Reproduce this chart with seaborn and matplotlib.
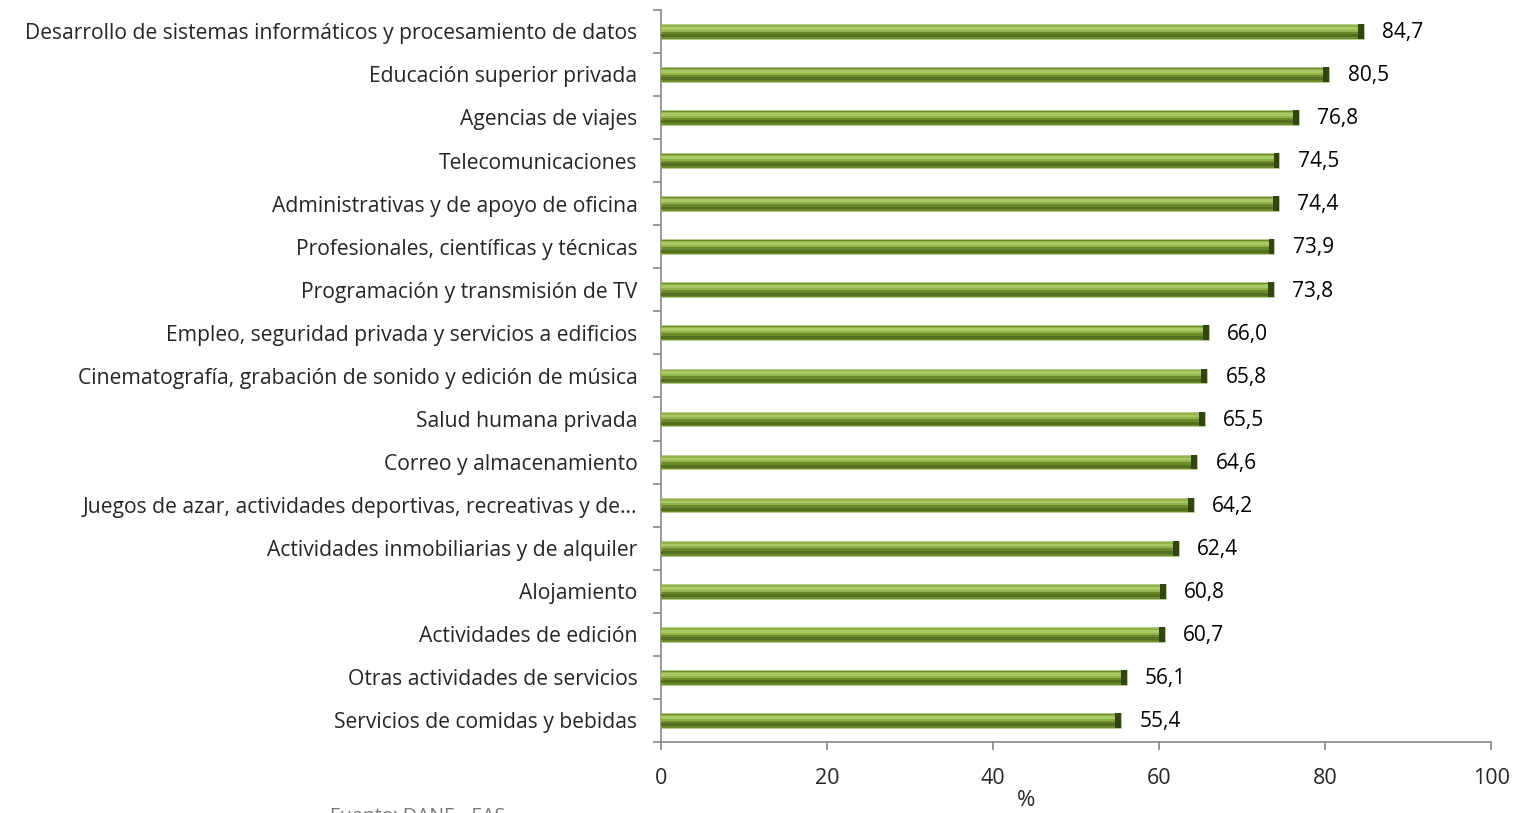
import matplotlib
matplotlib.use("Agg")
import matplotlib.pyplot as plt
import seaborn as sns
import pandas as pd

# Datos (% por actividad)
actividades = [
    "Desarrollo de sistemas informáticos y procesamiento de datos",
    "Educación superior privada",
    "Agencias de viajes",
    "Telecomunicaciones",
    "Administrativas y de apoyo de oficina",
    "Profesionales, científicas y técnicas",
    "Programación y transmisión de TV",
    "Empleo, seguridad privada y servicios a edificios",
    "Cinematografía, grabación de sonido y edición de música",
    "Salud humana privada",
    "Correo y almacenamiento",
    "Juegos de azar, actividades deportivas, recreativas y de...",
    "Actividades inmobiliarias y de alquiler",
    "Alojamiento",
    "Actividades de edición",
    "Otras actividades de servicios",
    "Servicios de comidas y bebidas",
]
valores = [84.7, 80.5, 76.8, 74.5, 74.4, 73.9, 73.8, 66.0, 65.8, 65.5,
           64.6, 64.2, 62.4, 60.8, 60.7, 56.1, 55.4]
xticks = [0, 20, 40, 60, 80, 100]

df = pd.DataFrame({"actividad": actividades, "valor": valores})

sns.set_style("white")
plt.rcParams['font.family'] = ['Open Sans', 'DejaVu Sans']

fig = plt.figure(figsize=(15.2, 8.13), dpi=100)
ax = fig.add_axes([0.4349, 0.0873, 0.981 - 0.4349, 0.988 - 0.0873])

sns.barplot(data=df, y="actividad", x="valor", orient="h", ax=ax,
            color="#6a8a2c", edgecolor="#b9cf8a", linewidth=0.6, width=0.34,
            saturation=1)

# franjas para imitar el degradado y el extremo oscuro de las barras
for p in ax.patches[:]:
    y0 = p.get_y()
    h = p.get_height()
    w = p.get_width()
    ax.barh(y0 + h * 0.1, w, height=h * 0.42, left=0,
            color="#92b34a", linewidth=0, align="edge", zorder=3)
    ax.barh(y0 + h * 0.2, w, height=h * 0.18, left=0,
            color="#aac865", linewidth=0, align="edge", zorder=3)
    ax.barh(y0 + h * 0.7, w, height=h * 0.2, left=0,
            color="#55701f", linewidth=0, align="edge", zorder=3)
    ax.barh(y0, 0.7, height=h, left=w - 0.7,
            color="#34460f", linewidth=0, align="edge", zorder=4)

for i, v in enumerate(valores):
    ax.text(v + 2.2, i + 0.03, f"{v:.1f}".replace(".", ","), va="center",
            ha="left", fontsize=15, color="black")

ax.set_xlim(0, 100)
ax.set_ylim(len(actividades) - 0.5, -0.5)
ax.set_xticks(xticks)
ax.set_xticklabels([str(t) for t in xticks], fontsize=15.5)
ax.set_yticks(range(len(actividades)))
ax.set_yticklabels(actividades, fontsize=15.2)
ax.tick_params(axis="y", which="major", left=False, length=0, pad=17)
ax.set_yticks([i - 0.5 for i in range(len(actividades) + 1)], minor=True)
ax.tick_params(axis="y", which="minor", left=True, length=6, width=1.2,
               color="#888888", direction="out")
ax.tick_params(axis="x", bottom=True, length=6, width=1.2, color="#888888",
               direction="out", pad=13)

ax.set_xlabel("%", fontsize=16)
ax.xaxis.set_label_coords(0.44, -0.065)
ax.set_ylabel("")

for s in ["top", "right"]:
    ax.spines[s].set_visible(False)
for s in ["left", "bottom"]:
    ax.spines[s].set_color("#888888")
    ax.spines[s].set_linewidth(1.2)

fig.text(0.217, 0.007, "Fuente: DANE - EAS", fontsize=14, color="#777777",
         va="top", ha="left")

fig.savefig("out.png", dpi=100)
